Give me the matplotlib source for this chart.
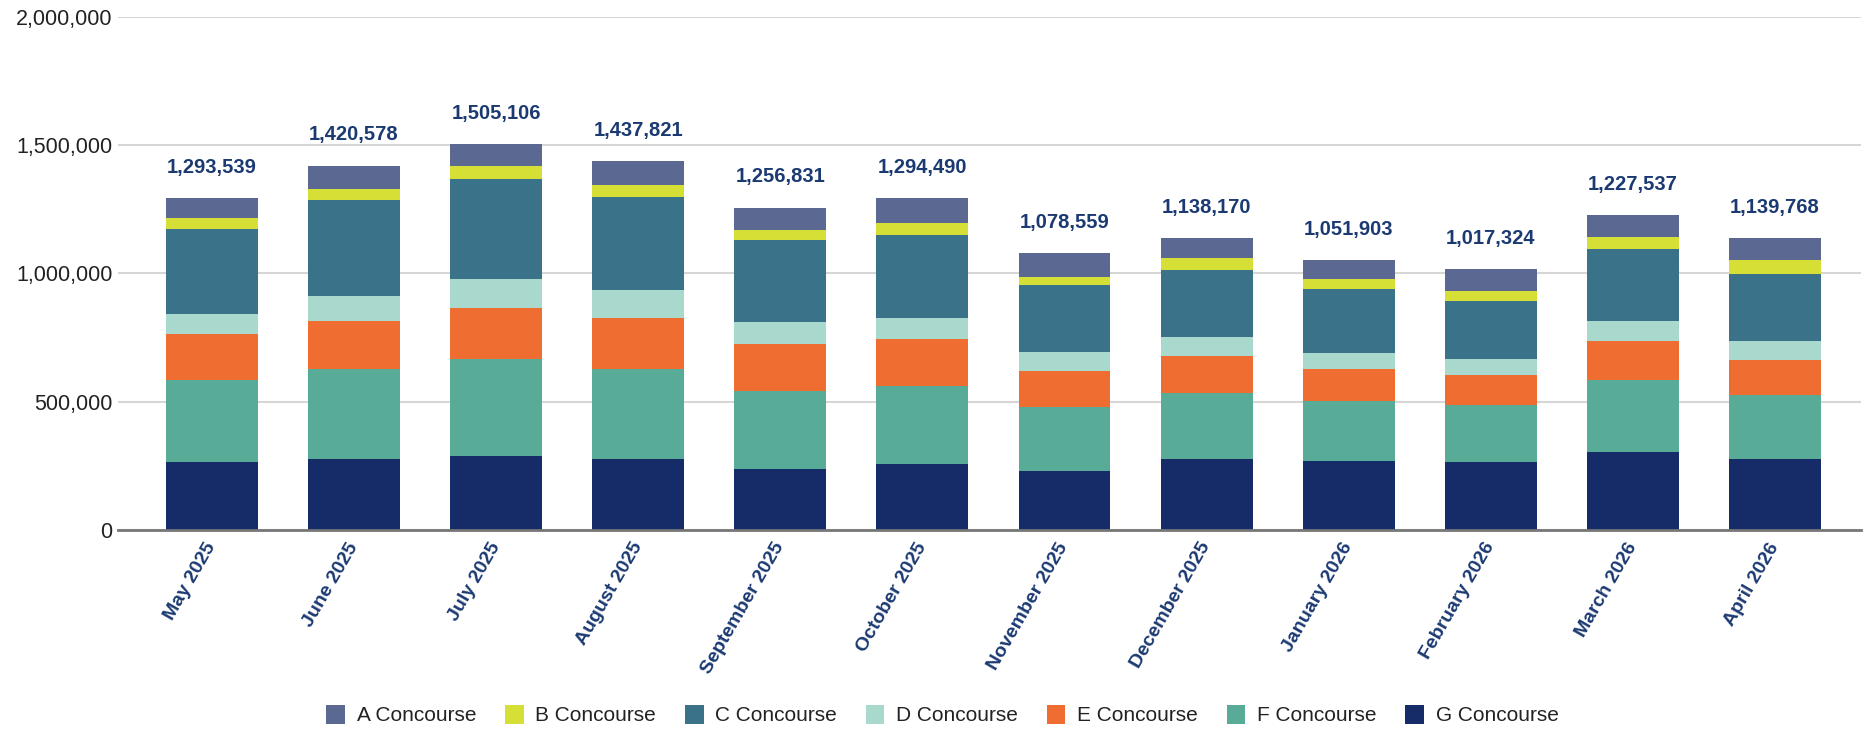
import matplotlib
matplotlib.use("Agg")
import matplotlib.pyplot as plt
import numpy as np

plt.rcParams['font.family'] = ['Liberation Sans', 'DejaVu Sans']

months = ["May 2025", "June 2025", "July 2025", "August 2025", "September 2025",
          "October 2025", "November 2025", "December 2025", "January 2026",
          "February 2026", "March 2026", "April 2026"]

# stacked from the bottom (G) up to the top (A)
g_conc = [264000, 278000, 290000, 278000, 238000, 257000, 231000, 278000, 270000, 264000, 304000, 277000]
f_conc = [322000, 348000, 375000, 348000, 302000, 303000, 249500, 256000, 231000, 223000, 282000, 249000]
e_conc = [177000, 188000, 201000, 201500, 183500, 183000, 139000, 144000, 125000, 117000, 149000, 138000]
d_conc = [79000, 99000, 112000, 106500, 85500, 84500, 72500, 73000, 65000, 61000, 79500, 74000]
c_conc = [333000, 373000, 392000, 365000, 320000, 320500, 261500, 261000, 248000, 227000, 280500, 259500]
b_conc = [40000, 45000, 47000, 45500, 40000, 47000, 32500, 46700, 39000, 41000, 47000, 53500]
a_conc = [78539, 89578, 88106, 93321, 87831, 99490, 92559, 79470, 73903, 84324, 85537, 88768]

series = [
    ("G Concourse", g_conc, "#152c69"),
    ("F Concourse", f_conc, "#58ab97"),
    ("E Concourse", e_conc, "#f06d31"),
    ("D Concourse", d_conc, "#a9d8cc"),
    ("C Concourse", c_conc, "#3a728a"),
    ("B Concourse", b_conc, "#d5df35"),
    ("A Concourse", a_conc, "#5b6892"),
]

fig = plt.figure(figsize=(18.7, 7.35), dpi=100)
ax = fig.add_axes([0.063, 0.279, 0.932, 0.698])

x = np.arange(len(months))
bottom = np.zeros(len(months))
handles = {}
for name, vals, col in series:
    vals = np.array(vals, dtype=float)
    b = ax.bar(x, vals, width=0.647, bottom=bottom, color=col, zorder=3, linewidth=0)
    handles[name] = b
    bottom += vals

# totals above bars
for xi, tot in zip(x, bottom):
    ax.annotate(f"{int(round(tot)):,}", (xi, tot), xytext=(0, 22), textcoords="offset points",
                ha="center", va="center", fontsize=14.5, fontweight="bold", color="#1c3a72")

ax.set_ylim(0, 2000000)
ax.set_xlim(-0.662, 11.603)
ax.set_yticks([0, 500000, 1000000, 1500000, 2000000])
ax.yaxis.set_major_formatter(matplotlib.ticker.FuncFormatter(lambda v, p: f"{int(v):,}"))
ax.tick_params(axis="y", length=0, pad=4, labelsize=15.5, labelcolor="#222222")
ax.grid(axis="y", color="#d6d6d6", linewidth=1.5, zorder=0)
ax.set_axisbelow(True)

ax.set_xticks(x)
ax.set_xticklabels(months, rotation=60, ha="right", va="center", rotation_mode="anchor",
                   fontsize=14, fontweight="bold", color="#1c3a72")
ax.tick_params(axis="x", length=0, pad=10)

for s in ["top", "right", "left"]:
    ax.spines[s].set_visible(False)
ax.spines["bottom"].set_color("#777777")
ax.spines["bottom"].set_linewidth(2)
ax.spines["bottom"].set_zorder(4)

order = ["A Concourse", "B Concourse", "C Concourse", "D Concourse",
         "E Concourse", "F Concourse", "G Concourse"]
fig.legend([handles[n] for n in order], order, loc="center", bbox_to_anchor=(0.504, 0.027),
           ncol=7, frameon=False, fontsize=15, handlelength=0.9, handleheight=1.0,
           handletextpad=0.57, columnspacing=1.37, labelcolor="#222222")

fig.savefig("out.png", dpi=100)
